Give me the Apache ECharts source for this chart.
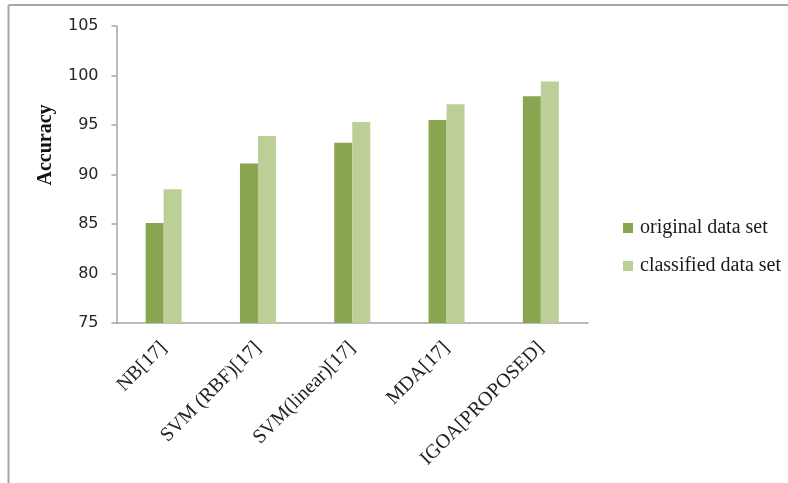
<!DOCTYPE html>
<html>
<head>
<meta charset="utf-8">
<script src="https://cdn.jsdelivr.net/npm/echarts@6/dist/echarts.min.js"></script>
<style>
  html, body { margin: 0; padding: 0; background: #fff; }
  #chart { width: 788px; height: 483px; }
</style>
</head>
<body>
<div id="chart"></div>
<script>
// Method names on the category axis
const categories = ['NB[17]', 'SVM (RBF)[17]', 'SVM(linear)[17]', 'MDA[17]', 'IGOA[PROPOSED]'];
// Accuracy (%) per method
const originalData = [85.1, 91.1, 93.2, 95.5, 97.9];
const classifiedData = [88.5, 93.9, 95.3, 97.1, 99.4];
const seriesNames = ['original data set', 'classified data set'];
// Value axis range
const yMin = 75, yMax = 105, yStep = 5;

const axisGray = '#a6a6a6';
const serif = '"Liberation Serif", "Times New Roman", serif';

const chart = echarts.init(document.getElementById('chart'));
chart.setOption({
  animation: false,
  backgroundColor: '#ffffff',
  grid: { left: 116.5, right: 200, top: 26, bottom: 160 },
  legend: {
    orient: 'vertical',
    left: 618,
    top: 213,
    itemWidth: 10,
    itemHeight: 10,
    itemGap: 18,
    icon: 'rect',
    textStyle: { fontFamily: serif, fontSize: 20, color: '#1a1a1a', padding: [0, 0, 0, 2] },
    data: seriesNames
  },
  graphic: [
    { type: 'line', shape: { x1: 8.5, y1: 5, x2: 788, y2: 5 }, style: { stroke: axisGray, lineWidth: 2 } },
    { type: 'line', shape: { x1: 8.5, y1: 5, x2: 8.5, y2: 483 }, style: { stroke: axisGray, lineWidth: 2 } },
    {
      type: 'text',
      x: 46, y: 145,
      rotation: Math.PI / 2,
      style: {
        text: 'Accuracy',
        font: 'bold 20px ' + serif,
        fill: '#111',
        align: 'center',
        verticalAlign: 'middle'
      }
    }
  ],
  xAxis: {
    type: 'category',
    data: categories,
    axisLine: { lineStyle: { color: axisGray, width: 1.5 } },
    axisTick: { show: false },
    axisLabel: {
      interval: 0,
      rotate: 45,
      margin: 22,
      fontFamily: serif,
      fontSize: 20,
      color: '#222'
    }
  },
  yAxis: {
    type: 'value',
    min: yMin,
    max: yMax,
    interval: yStep,
    splitLine: { show: false },
    axisLine: { show: true, lineStyle: { color: axisGray, width: 1.5 } },
    axisTick: { show: true, length: 5, lineStyle: { color: axisGray, width: 1.5 } },
    axisLabel: {
      margin: 18,
      fontFamily: '"DejaVu Sans", sans-serif',
      fontSize: 16,
      color: '#262626'
    }
  },
  series: [
    {
      name: seriesNames[0],
      type: 'bar',
      data: originalData,
      barWidth: 18,
      barGap: '0%',
      itemStyle: { color: '#89a550' }
    },
    {
      name: seriesNames[1],
      type: 'bar',
      data: classifiedData,
      barWidth: 18,
      barGap: '0%',
      itemStyle: { color: '#bbcf97' }
    }
  ]
});
</script>
</body>
</html>
